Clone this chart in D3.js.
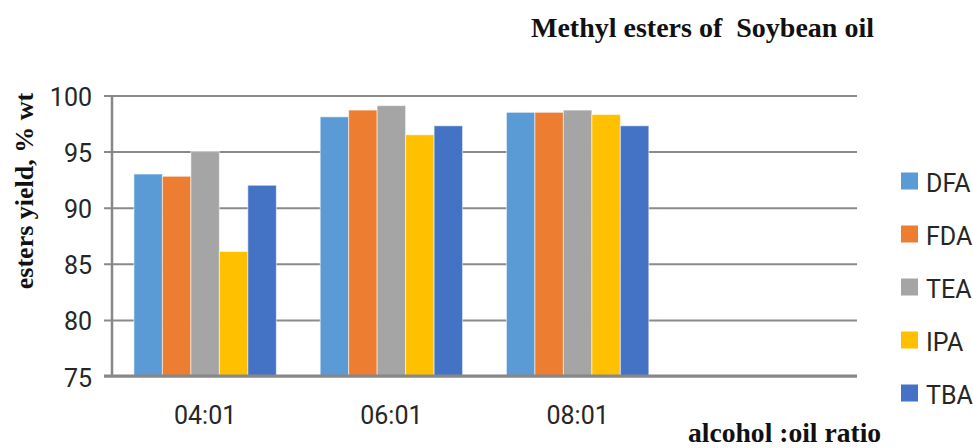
<!DOCTYPE html>
<html>
<head>
<meta charset="utf-8">
<script src="https://cdn.jsdelivr.net/npm/d3@7"></script>
<style>
  html, body { margin: 0; padding: 0; background: #fff; }
  svg { display: block; }
</style>
</head>
<body>
<svg id="chart" width="973" height="448"></svg>
<script>
// Alcohol : oil molar ratios (the fourth slot is left empty on the axis)
const categories = ["04:01", "06:01", "08:01", ""];
// Catalyst / solvent series
const seriesNames = ["DFA", "FDA", "TEA", "IPA", "TBA"];
const seriesColors = ["#5B9BD5", "#ED7D31", "#A5A5A5", "#FFC000", "#4472C4"];
// Ester yield (% wt) per series, one value per ratio
const DFA = [93.0, 98.1, 98.5];
const FDA = [92.8, 98.7, 98.5];
const TEA = [95.0, 99.1, 98.7];
const IPA = [86.1, 96.5, 98.3];
const TBA = [92.0, 97.3, 97.3];
const yTicks = [75, 80, 85, 90, 95, 100];

const seriesValues = [DFA, FDA, TEA, IPA, TBA];

const svg = d3.select("#chart");
const plotLeft = 112, plotRight = 857, plotTop = 95.5, plotBottom = 376;

const x0 = d3.scaleBand().domain(categories).range([plotLeft, plotRight]).padding(0);
const x1 = d3.scaleBand().domain(seriesNames).range([0, x0.bandwidth()])
  .paddingInner(0).paddingOuter(0.77);
const y = d3.scaleLinear().domain([75, 100]).range([plotBottom, plotTop]);
const color = d3.scaleOrdinal().domain(seriesNames).range(seriesColors);

const sans = "Roboto, 'Liberation Sans', sans-serif";
const serif = "'Liberation Serif', 'Times New Roman', serif";

// Horizontal gridlines with short ticks to the left of the value axis
const yAxis = d3.axisLeft(y).tickValues(yTicks).tickSize(-(plotRight - plotLeft)).tickPadding(14).tickSizeOuter(0);
const gy = svg.append("g").attr("transform", `translate(${plotLeft},0)`).call(yAxis);
gy.select(".domain").remove();
gy.selectAll(".tick line")
  .attr("x1", -8)
  .attr("stroke", "#8a8a8a")
  .attr("stroke-width", 2);
gy.selectAll(".tick text")
  .attr("font-family", sans)
  .attr("font-size", 25)
  .attr("fill", "#262626")
  .attr("dy", "0.4em")
  .attr("x", -20);

// Bars
const rows = categories.slice(0, 3).map((c, i) => ({
  cat: c,
  vals: seriesNames.map((s, k) => ({ s, v: seriesValues[k][i] }))
}));

svg.append("g").selectAll("g")
  .data(rows)
  .join("g")
  .attr("transform", d => `translate(${x0(d.cat)},0)`)
  .selectAll("rect")
  .data(d => d.vals)
  .join("rect")
  .attr("x", d => x1(d.s))
  .attr("width", x1.bandwidth())
  .attr("y", d => y(d.v))
  .attr("height", d => y(75) - y(d.v))
  .attr("fill", d => color(d.s))
  .attr("stroke", "#ffffff")
  .attr("stroke-opacity", 0.55)
  .attr("stroke-width", 1);

// Value axis line
svg.append("line")
  .attr("x1", plotLeft).attr("x2", plotLeft)
  .attr("y1", plotTop).attr("y2", plotBottom)
  .attr("stroke", "#878787").attr("stroke-width", 2.5);

// Category axis
const xAxis = d3.axisBottom(x0).tickSize(0).tickPadding(30);
const gx = svg.append("g").attr("transform", `translate(0,${plotBottom})`).call(xAxis);
gx.select(".domain")
  .attr("d", `M${plotLeft - 8},0H${plotRight}`)
  .attr("stroke", "#878787")
  .attr("stroke-width", 3);
gx.selectAll(".tick text")
  .attr("font-family", sans)
  .attr("font-size", 25)
  .attr("fill", "#262626");

// Titles
svg.append("text")
  .attr("x", 531).attr("y", 36.5)
  .attr("font-family", serif).attr("font-weight", "bold").attr("font-size", 28)
  .attr("fill", "#111")
  .style("white-space", "pre")
  .text("Methyl esters of  Soybean oil");

svg.append("text")
  .attr("transform", "translate(33,191) rotate(-90)")
  .attr("text-anchor", "middle")
  .attr("font-family", serif).attr("font-weight", "bold").attr("font-size", 26)
  .attr("fill", "#111")
  .text("esters yield, % wt");

svg.append("text")
  .attr("x", 688).attr("y", 442)
  .attr("font-family", serif).attr("font-weight", "bold").attr("font-size", 27.6)
  .attr("fill", "#111")
  .text("alcohol :oil ratio");

// Legend
const legend = svg.append("g").selectAll("g")
  .data(seriesNames)
  .join("g")
  .attr("transform", (d, i) => `translate(901,${172.5 + i * 53})`);
legend.append("rect")
  .attr("width", 17).attr("height", 17)
  .attr("fill", d => color(d));
legend.append("text")
  .attr("x", 25).attr("y", 19)
  .attr("font-family", sans).attr("font-size", 25)
  .attr("fill", "#262626")
  .text(d => d);
</script>
</body>
</html>
